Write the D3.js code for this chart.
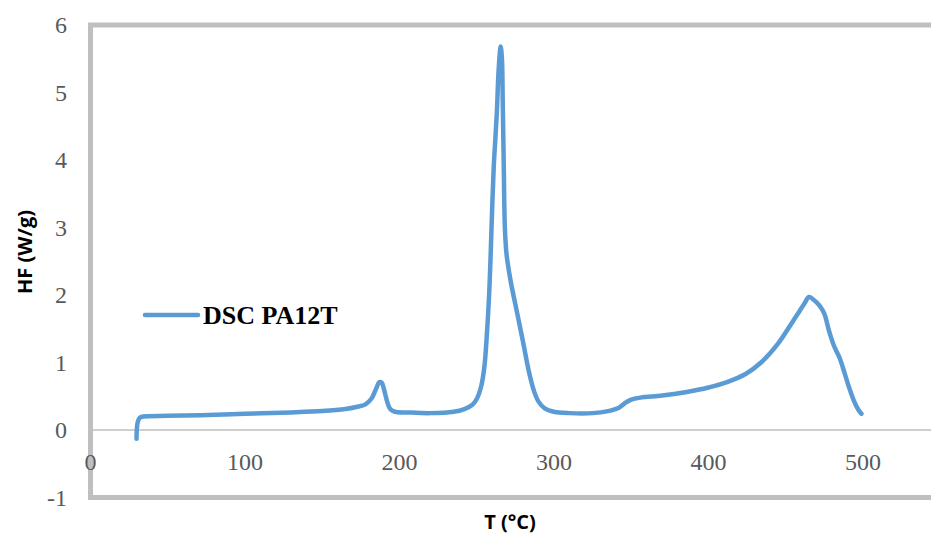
<!DOCTYPE html>
<html>
<head>
<meta charset="utf-8">
<script src="https://cdn.jsdelivr.net/npm/d3@7"></script>
<style>
  body { margin: 0; background: #fff; }
  .tick-label { font-family: "Liberation Serif", "Times New Roman", serif; font-size: 24px; fill: #595959; }
  .axis-title { font-family: "Open Sans", "Liberation Sans", sans-serif; font-weight: bold; font-size: 20px; fill: #000; }
  .legend-text { font-family: "Liberation Serif", "Times New Roman", serif; font-weight: bold; font-size: 26px; fill: #000; }
</style>
</head>
<body>
<div id="chart"></div>
<script>
// DSC curve
var temps = [29.8, 30.0, 30.6, 31.8, 34, 50, 71, 100, 130, 150, 165, 172, 178, 182, 185, 187, 188.5, 190, 192, 194, 197,
  205, 220, 235, 242, 247, 250, 253, 255, 256.5, 258, 259, 260, 261, 262, 263, 264.2, 265.5, 266.3, 266.8, 267.5, 268.2,
  269.3, 272, 276, 280, 284, 287, 290, 294, 300, 310, 325, 335, 342, 346, 350, 356, 370, 385, 400, 412, 424, 434, 445,
  456, 462, 465, 468, 472, 475, 478, 481, 485, 488, 491, 494, 497, 499];
var heatFlow = [-0.13, 0.02, 0.12, 0.18, 0.2, 0.21, 0.22, 0.24, 0.26, 0.28, 0.31, 0.34, 0.38, 0.47, 0.62, 0.71, 0.70, 0.6, 0.42, 0.31, 0.27,
  0.26, 0.25, 0.27, 0.31, 0.37, 0.46, 0.66, 0.95, 1.4, 2.0, 2.6, 3.3, 3.9, 4.3, 4.7, 5.35, 5.68, 5.5, 4.9, 3.9, 3.0,
  2.6, 2.2, 1.75, 1.3, 0.84, 0.58, 0.42, 0.32, 0.27, 0.25, 0.25, 0.28, 0.33, 0.40, 0.45, 0.48, 0.51, 0.56, 0.63, 0.71, 0.83, 1.0, 1.28,
  1.66, 1.87, 1.97, 1.93, 1.84, 1.72, 1.47, 1.26, 1.06, 0.85, 0.63, 0.44, 0.3, 0.24];
var xTicks = [0, 100, 200, 300, 400, 500];
var yTicks = [-1, 0, 1, 2, 3, 4, 5, 6];
var seriesName = "DSC PA12T";

var W = 931, H = 537;
var blue = "#5b9bd5", frame = "#bfbfbf";

var svg = d3.select("#chart").append("svg")
  .attr("width", W)
  .attr("height", H);

// axis max is 600 in the source, plot is cut off at the window edge
var x = d3.scaleLinear().domain([0, 600]).range([90.5, 90.5 + 154.5 * 6]);
var y = d3.scaleLinear().domain([-1, 6]).range([497.5, 25]);

// zero line
svg.append("line")
  .attr("x1", x(0)).attr("x2", W)
  .attr("y1", y(0)).attr("y2", y(0))
  .attr("stroke", frame).attr("stroke-width", 1.5);

// frame: left, top, bottom
svg.append("path")
  .attr("d", "M" + W + "," + y(6) + "H" + x(0) + "V" + y(-1) + "H" + W)
  .attr("fill", "none")
  .attr("stroke", frame)
  .attr("stroke-width", 5);

// tick labels
svg.selectAll("text.ylab").data(yTicks).enter().append("text")
  .attr("class", "tick-label ylab")
  .attr("x", 67)
  .attr("y", function(d) { return y(d); })
  .attr("dy", "0.35em")
  .attr("text-anchor", "end")
  .text(function(d) { return d; });

svg.selectAll("text.xlab").data(xTicks).enter().append("text")
  .attr("class", "tick-label xlab")
  .attr("x", function(d) { return x(d); })
  .attr("y", 462)
  .attr("dy", "0.35em")
  .attr("text-anchor", "middle")
  .text(function(d) { return d; });

// titles
svg.append("text")
  .attr("class", "axis-title")
  .attr("transform", "translate(25,252) rotate(-90)")
  .attr("text-anchor", "middle")
  .attr("dy", "0.35em")
  .text("HF (W/g)");

svg.append("text")
  .attr("class", "axis-title")
  .attr("x", 510)
  .attr("y", 522)
  .attr("dy", "0.35em")
  .attr("text-anchor", "middle")
  .text("T (°C)");

// curve
var pts = temps.map(function(t, i) { return [t, heatFlow[i]]; });
var line = d3.line()
  .x(function(d) { return x(d[0]); })
  .y(function(d) { return y(d[1]); })
  .curve(d3.curveCatmullRom.alpha(0.5));

svg.append("path")
  .datum(pts)
  .attr("d", line)
  .attr("fill", "none")
  .attr("stroke", blue)
  .attr("stroke-width", 4.5)
  .attr("stroke-linecap", "round")
  .attr("stroke-linejoin", "round");

// legend
var lg = svg.append("g").attr("transform", "translate(145,315)");
lg.append("line")
  .attr("x1", 0).attr("x2", 53)
  .attr("stroke", blue).attr("stroke-width", 4.5)
  .attr("stroke-linecap", "round");
lg.append("text")
  .attr("class", "legend-text")
  .attr("x", 58)
  .attr("dy", "0.35em")
  .text(seriesName);
</script>
</body>
</html>
